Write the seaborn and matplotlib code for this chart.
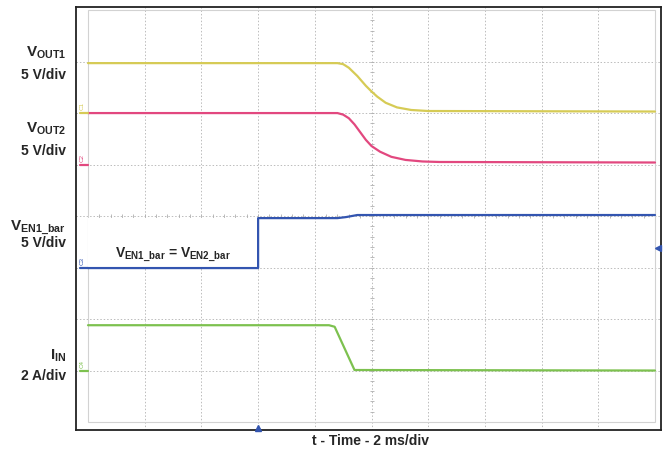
import matplotlib
matplotlib.use("Agg")
import matplotlib.pyplot as plt
import seaborn as sns
import pandas as pd
import numpy as np
from matplotlib.patches import Rectangle

# time in divisions (2 ms/div), levels in screen divisions (0 = bottom graticule)
t_vout1 = [0, 4.4, 4.5, 4.6, 4.75, 4.9, 5.0, 5.1, 5.25, 5.45, 5.7, 6.0, 10]
v_vout1 = [6.97, 6.97, 6.95, 6.88, 6.72, 6.53, 6.42, 6.32, 6.2, 6.11, 6.06, 6.04, 6.03]

t_vout2 = [0, 4.4, 4.5, 4.6, 4.7, 4.8, 4.9, 5.0, 5.15, 5.35, 5.6, 5.9, 6.2, 10]
v_vout2 = [6.0, 6.0, 5.97, 5.9, 5.78, 5.63, 5.48, 5.36, 5.25, 5.15, 5.09, 5.06, 5.05, 5.04]

t_ven = [0, 3.0, 3.0, 4.4, 4.55, 4.75, 10]
v_ven = [2.99, 2.99, 3.96, 3.96, 3.98, 4.02, 4.02]

t_iin = [0, 4.25, 4.35, 4.7, 10]
v_iin = [1.88, 1.88, 1.85, 1.01, 1.0]

channels = ["C1", "C2", "C3", "C4"]
ground = [6.0, 5.0, 3.0, 1.0]
colors = {"C1": "#d6cb55", "C2": "#e2487f", "C3": "#3355b0", "C4": "#7dc14f"}

df = pd.concat([
    pd.DataFrame({"t": t_vout1, "v": v_vout1, "ch": "C1"}),
    pd.DataFrame({"t": t_vout2, "v": v_vout2, "ch": "C2"}),
    pd.DataFrame({"t": t_ven, "v": v_ven, "ch": "C3"}),
    pd.DataFrame({"t": t_iin, "v": v_iin, "ch": "C4"}),
], ignore_index=True)

sns.set_style("white")
plt.rcParams["font.family"] = ["Liberation Sans", "DejaVu Sans"]
plt.rcParams["mathtext.fontset"] = "custom"
plt.rcParams["mathtext.bf"] = "Liberation Sans:bold"
plt.rcParams["mathtext.rm"] = "Liberation Sans:bold"

fig = plt.figure(figsize=(6.64, 4.55), dpi=100)
ax = fig.add_axes([76 / 664, 1 - 430 / 455, 585 / 664, 423 / 455])

# graticule
for gx in range(1, 10):
    ax.axvline(gx, color="#bcbcbc", lw=0.7, ls=(0, (1.5, 2)), zorder=1)
for gy in range(1, 8):
    ax.axhline(gy, color="#bcbcbc", lw=0.7, ls=(0, (1.5, 2)), zorder=1)
ax.add_patch(Rectangle((0, 0), 10, 8, fill=False, ec="#d2d2d2", lw=0.8, zorder=1))
# centre-line minor ticks
mt = np.arange(0.2, 9.9, 0.2)
ax.plot(mt, np.full_like(mt, 4), ls="none", marker="|", ms=2.5, color="#b0b0b0", mew=0.6, zorder=1)
mv = np.arange(0.2, 7.9, 0.2)
ax.plot(np.full_like(mv, 5), mv, ls="none", marker="_", ms=2.5, color="#b0b0b0", mew=0.6, zorder=1)

# white label area above the enable trace
ax.add_patch(Rectangle((0, 2.99), 3.0, 0.97, fc="white", ec="none", zorder=2))

sns.lineplot(data=df, x="t", y="v", hue="ch", palette=colors, estimator=None,
             sort=False, lw=1.6, legend=False, ax=ax, zorder=3)

# channel ground markers
for ch, g in zip(channels, ground):
    ax.plot([-0.14, 0], [g, g], color=colors[ch], lw=1.6, zorder=3, clip_on=False)
    ax.text(-0.11, g + 0.13, ch, color=colors[ch], fontsize=4.5, rotation=90,
            ha="center", va="center")

# trigger markers
ax.plot([3.0], [-0.12], marker="^", ms=4, color="#3355b0", clip_on=False, zorder=4)
ax.plot([10.06], [3.37], marker="<", ms=4, color="#3355b0", clip_on=False, zorder=4)

ax.set_xlim(-0.212, 10.106)
ax.set_ylim(-0.155, 8.06)
ax.set_xticks([])
ax.set_yticks([])
ax.set_xlabel("")
ax.set_ylabel("")
for s in ax.spines.values():
    s.set_color("#222222")
    s.set_linewidth(1.3)

ax.text(1.5, 3.2, r"$\mathbf{V_{EN1\_bar}}$ = $\mathbf{V_{EN2\_bar}}$", fontsize=10,
        fontweight="bold", ha="center", va="baseline", zorder=5)

def lab(y_main, main, y_scale, scale):
    fig.text(66 / 664, 1 - y_main / 455, main, fontsize=11, fontweight="bold",
             ha="right", va="baseline")
    fig.text(66 / 664, 1 - y_scale / 455, scale, fontsize=10, fontweight="bold",
             ha="right", va="baseline")

lab(57, r"$\mathbf{V_{OUT1}}$", 79, "5 V/div")
lab(133, r"$\mathbf{V_{OUT2}}$", 155, "5 V/div")
lab(230, r"$\mathbf{V_{EN1\_bar}}$", 247, "5 V/div")
lab(360, r"$\mathbf{I_{IN}}$", 380, "2 A/div")

fig.text(370 / 664, 1 - 445 / 455, "t - Time - 2 ms/div", fontsize=10,
         fontweight="bold", ha="center", va="baseline")

fig.savefig("out.png", dpi=100)
